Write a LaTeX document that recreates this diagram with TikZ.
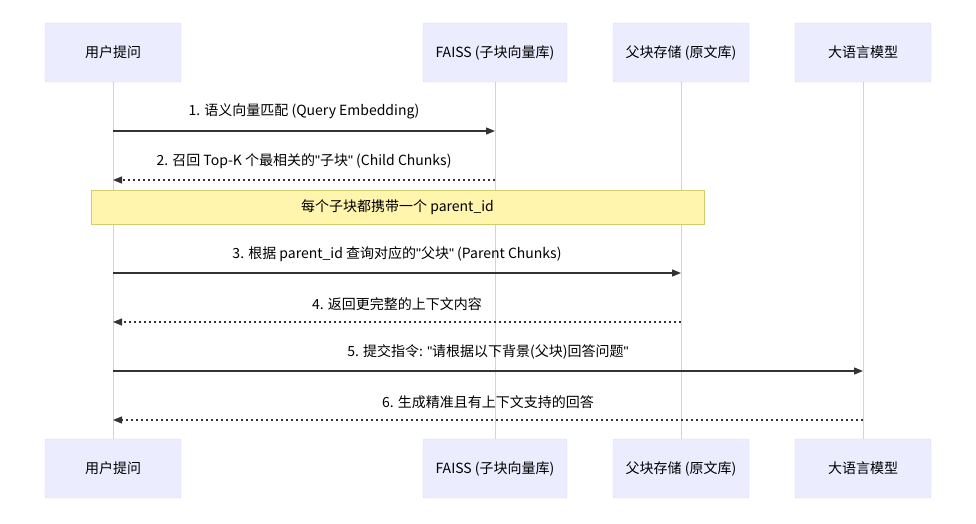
\documentclass[tikz,border=0pt]{standalone}
\usepackage{fontspec}
\setmainfont{Noto Sans CJK SC}
\newfontfamily\latinf{Liberation Sans}
\usetikzlibrary{calc, positioning}
\usetikzlibrary{arrows.meta}
\definecolor{actorfill}{HTML}{ECECFF}
\definecolor{actorline}{HTML}{D6D6F5}
\definecolor{lifeline}{HTML}{CFCFEF}
\definecolor{notefill}{HTML}{FFF5AD}
\definecolor{noteline}{HTML}{D4CB6A}
\definecolor{msgline}{HTML}{333333}
\def\aw{136pt}
\def\ah{59pt}
\def\dq{{\latinf"}}
\tikzset{
    actor/.style = {
        draw=actorline, fill=actorfill, rectangle, rounded corners=2pt,
        minimum width=\aw, minimum height=\ah, inner sep=0pt,
        font=\fontsize{14}{16}\selectfont
    },
    life/.style = { draw=lifeline, line width=1pt },
    msg/.style = { draw=msgline, line width=1.3pt },
    reply/.style = { msg, dash pattern=on 2.5pt off 2.5pt },
    msglabel/.style = { inner sep=0pt, font=\fontsize{14}{16}\selectfont, text=black },
    notebox/.style = {
        draw=noteline, fill=notefill, rectangle, inner sep=0pt,
        minimum width=613pt, minimum height=34pt, font=\fontsize{14}{16}\selectfont
    }
}

\begin{document}
\begin{tikzpicture}[x=1pt, y=-1pt]
        \useasboundingbox (0,0) rectangle (976,523);
        % Place the actors
        \node [actor] (user)  at (113,52.5) {用户提问};
        \node [actor, minimum width=144pt] (faiss) at (495,52.5) {FAISS (子块向量库)};
        \node [actor] (store) at (681,52.5) {父块存储 (原文库)};
        \node [actor] (llm)   at (863,52.5) {大语言模型};
        \node [actor] (userB)  at (113,468.5) {用户提问};
        \node [actor, minimum width=144pt] (faissB) at (495,468.5) {FAISS (子块向量库)};
        \node [actor] (storeB) at (681,468.5) {父块存储 (原文库)};
        \node [actor] (llmB)   at (863,468.5) {大语言模型};
        % Lifelines
        \draw [life] (user.south) -- (userB.north);
        \draw [life] (faiss.south) -- (faissB.north);
        \draw [life] (store.south) -- (storeB.north);
        \draw [life] (llm.south) -- (llmB.north);
        % Message rows
        \coordinate (m1) at (0,131);
        \coordinate (m2) at (0,180);
        \coordinate (m3) at (0,273);
        \coordinate (m4) at (0,322);
        \coordinate (m5) at (0,371);
        \coordinate (m6) at (0,420);
        \node [notebox] (note) at (397.5,207) {每个子块都携带一个 parent\_id};
        \begin{scope}[>={Triangle[width=7pt,length=9pt]}]
            \draw [msg, ->] (user |- m1) -- node[msglabel, midway, above=11pt]{1. 语义向量匹配 (Query Embedding)} (faiss |- m1);
            \draw [reply, ->] (faiss |- m2) -- node[msglabel, midway, above=11pt]{2. 召回 Top-K 个最相关的\dq 子块\dq{} (Child Chunks)} (user |- m2);
            \draw [msg, ->] (user |- m3) -- node[msglabel, midway, above=11pt]{3. 根据 parent\_id 查询对应的\dq 父块\dq{} (Parent Chunks)} (store |- m3);
            \draw [reply, ->] (store |- m4) -- node[msglabel, midway, above=11pt]{4. 返回更完整的上下文内容} (user |- m4);
            \draw [msg, ->] (user |- m5) -- node[msglabel, midway, above=11pt]{5. 提交指令: \dq 请根据以下背景(父块)回答问题\dq} (llm |- m5);
            \draw [reply, ->] (llm |- m6) -- node[msglabel, midway, above=11pt]{6. 生成精准且有上下文支持的回答} (user |- m6);
        \end{scope}
    \end{tikzpicture}
\end{document}
